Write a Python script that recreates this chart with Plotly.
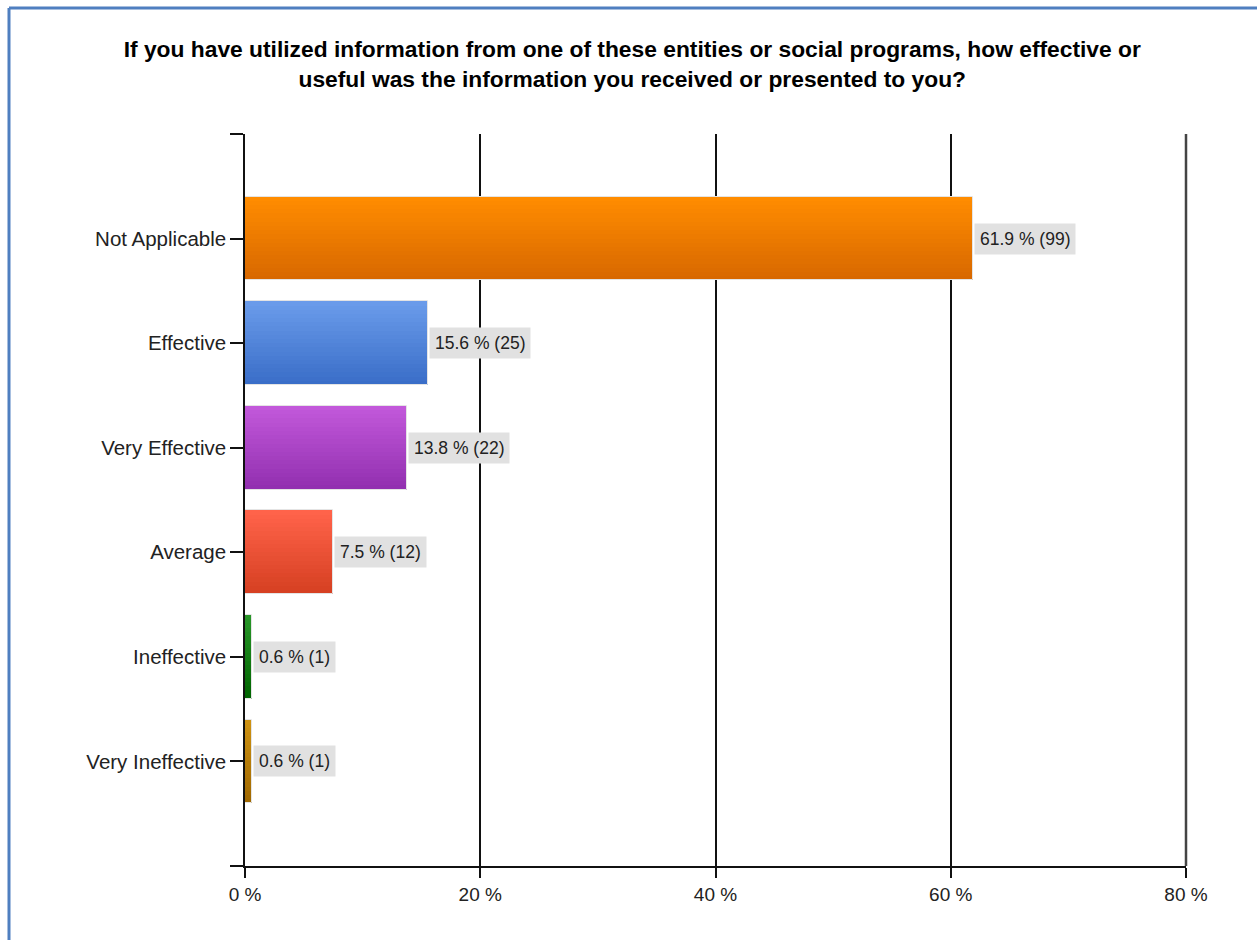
import plotly.graph_objects as go

# Survey responses
categories = ["Not Applicable", "Effective", "Very Effective", "Average",
              "Ineffective", "Very Ineffective"]
percent = [61.9, 15.6, 13.8, 7.5, 0.6, 0.6]
counts = [99, 25, 22, 12, 1, 1]
x_ticks = [0, 20, 40, 60, 80]

# top / bottom colours of each bar's vertical gradient
top_colors = [(255, 140, 0), (106, 155, 234), (194, 88, 218), (255, 99, 74),
              (40, 150, 40), (206, 146, 18)]
bottom_colors = [(216, 104, 0), (58, 110, 200), (146, 48, 176), (214, 64, 34),
                 (0, 100, 0), (160, 104, 0)]

FONT = "Liberation Sans, Arial, sans-serif"
BAR_W = 0.8
N_SLICES = 20
pos = list(range(len(categories)))

fig = go.Figure()

# gradient fill: each bar is built from thin horizontal strips
slice_w = BAR_W / N_SLICES
for s in range(N_SLICES):
    t = s / (N_SLICES - 1)
    cols = []
    for c0, c1 in zip(top_colors, bottom_colors):
        r, g, b = (round(a + (bb - a) * t) for a, bb in zip(c0, c1))
        cols.append(f"rgb({r},{g},{b})")
    fig.add_trace(go.Bar(
        y=pos, x=percent, orientation="h",
        width=slice_w, offset=-BAR_W / 2 + s * slice_w,
        marker=dict(color=cols, line=dict(width=0)),
        hoverinfo="skip", showlegend=False,
    ))

# thin light outline around each bar
fig.add_trace(go.Bar(
    y=pos, x=percent, orientation="h", width=BAR_W,
    marker=dict(color="rgba(0,0,0,0)", line=dict(color="#e4e4e4", width=1)),
    customdata=counts,
    hovertemplate="%{x} %% (%{customdata})<extra></extra>",
    showlegend=False,
))

# value labels
for i, (p, n) in enumerate(zip(percent, counts)):
    fig.add_annotation(
        x=p, y=i, xref="x", yref="y",
        text=f"{p} % ({n})", showarrow=False,
        xanchor="left", yanchor="middle", xshift=1,
        bgcolor="#e1e1e1", borderpad=5,
        font=dict(family=FONT, size=17.5, color="#222222"),
    )

# outer blue frame
fig.add_shape(type="line", xref="paper", yref="paper",
              x0=-0.2508, x1=1.2, y0=1.1721, y1=1.1721,
              line=dict(color="#4f7fc0", width=3))
fig.add_shape(type="line", xref="paper", yref="paper",
              x0=-0.2508, x1=-0.2508, y0=-0.2, y1=1.1721,
              line=dict(color="#4f7fc0", width=3))

# right-hand border of the plot area
fig.add_shape(type="line", xref="paper", yref="paper", x0=1, x1=1, y0=0, y1=1,
              line=dict(color="#444444", width=2.5), layer="above")

fig.update_layout(
    width=1257, height=940,
    margin=dict(l=245, r=71, t=134, b=74),
    paper_bgcolor="white", plot_bgcolor="white",
    bargap=0,
    title=dict(
        text="If you have utilized information from one of these entities or social programs, how effective or<br>"
             "useful was the information you received or presented to you?",
        x=0.503, xanchor="center", y=0.9395, yanchor="middle",
        font=dict(family=FONT, size=22.8, color="#000000", weight="bold"),
    ),
    xaxis=dict(
        range=[0, 80], tickvals=x_ticks, ticktext=[f"{v} %" for v in x_ticks],
        showgrid=True, gridcolor="#111111", gridwidth=1.5,
        showline=True, linecolor="#111111", linewidth=1.5,
        ticks="outside", ticklen=10, tickcolor="#111111", tickwidth=1.5,
        tickfont=dict(family=FONT, size=19, color="#222222"),
        zeroline=False, mirror=False, fixedrange=True,
    ),
    yaxis=dict(
        range=[6, -1],
        tickvals=[-1] + pos + [6], ticktext=[""] + categories + [""],
        showgrid=False,
        showline=True, linecolor="#111111", linewidth=1.5,
        ticks="outside", ticklen=13, tickcolor="#111111", tickwidth=1.5,
        tickfont=dict(family=FONT, size=20.5, color="#222222"),
        zeroline=False, fixedrange=True,
    ),
)

fig.write_html("out.html")
